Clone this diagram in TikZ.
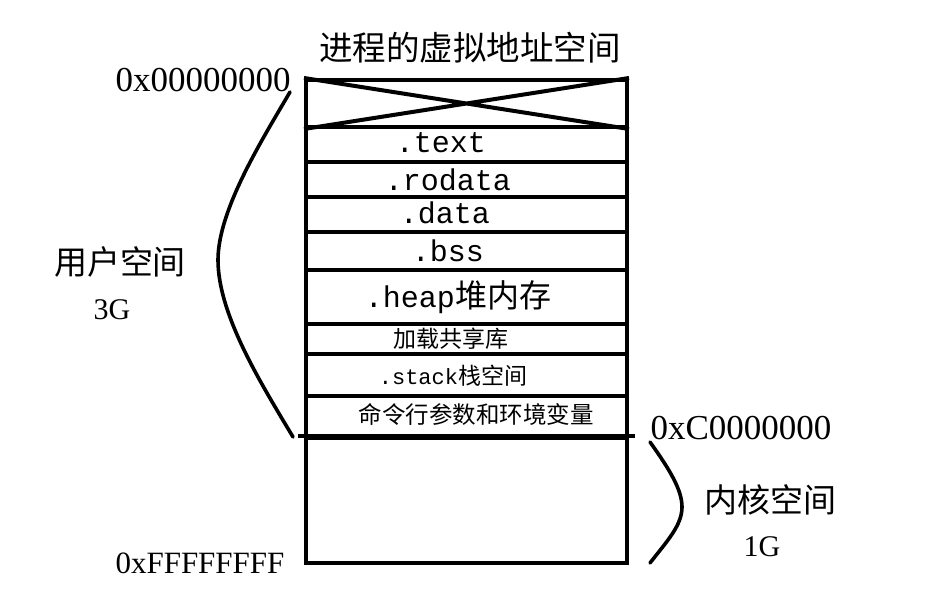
\documentclass[tikz,border=0pt]{standalone}
\usepackage{fontspec}
\setmainfont{Liberation Serif}
\setmonofont{Liberation Mono}
\newfontfamily\cjk{Noto Sans CJK SC}
\usetikzlibrary{calc,positioning}

\begin{document}
\begin{tikzpicture}[x=1pt,y=-1pt,
 band/.style={draw,line width=4pt,minimum width=321pt,inner sep=0pt},
 seg/.style={font=\fontsize{30}{34}\selectfont\ttfamily},
 smallseg/.style={font=\fontsize{22}{26}\selectfont\ttfamily},
 addr/.style={font=\fontsize{35}{38}\selectfont},
 size/.style={font=\fontsize{30}{34}\selectfont},
 big/.style={font=\fontsize{33}{36}\selectfont\cjk},
 brace/.style={line width=3.6pt,line cap=round}]
\useasboundingbox (0,0) rectangle (930,612);
% stacked regions of the address space
\foreach \name/\t/\b in {null/80/127,text/127/162,rodata/162/197,data/197/232,bss/232/270,
 heap/270/324,lib/324/354,stack/354/396,env/396/438,kern/438/563}{
 \pgfmathsetmacro\h{\b-\t}
 \node[band,minimum height=\h pt] (\name) at (466.5,{(\t+\b)/2}) {};
}
\draw[line width=4pt] (null.north west)--(null.south east) (null.south west)--(null.north east);
\draw[line width=4pt] ($(kern.north west)+(-6,0)$)--($(kern.north east)+(6,0)$);
% region labels
\node[big,font=\fontsize{33.5}{36}\selectfont\cjk] (title) at (470,48) {进程的虚拟地址空间};
\node[seg] (textlbl) at (441,143) {.text};
\node[seg] (rodatalbl) at (448,180) {.rodata};
\node[seg] (datalbl) at (445,213) {.data};
\node[seg] (bsslbl) at (448,251) {.bss};
\node[seg] (heaplbl) at (458,297) {.heap{\cjk\fontsize{32}{36}\selectfont 堆内存}};
\node[smallseg] (liblbl) at (451,339) {\cjk\fontsize{23}{26}\selectfont 加载共享库};
\node[smallseg] (stacklbl) at (453,376) {.stack{\cjk\fontsize{23}{26}\selectfont 栈空间}};
\node[smallseg] (envlbl) at (476,414) {\cjk\fontsize{23.5}{26}\selectfont 命令行参数和环境变量};
% addresses
\node[addr] (lowaddr) at (203,80) {0x00000000};
\node[addr] (kernaddr) at (741,428) {0xC0000000};
\node[addr,font=\fontsize{31}{34}\selectfont] (highaddr) at (200,563) {0xFFFFFFFF};
% user / kernel ranges
\node[big] (user) at (120,262) {用户空间};
\node[size] (usersize) at (112,310) {3G};
\node[big] (kernel) at (770,500) {内核空间};
\node[size] (kernsize) at (762,547) {1G};
\coordinate (ustart) at (290,92);
\coordinate (umid) at (218,260);
\coordinate (uend) at (293,437);
\coordinate (kstart) at (650,442);
\coordinate (kmid) at (682,507);
\coordinate (kend) at (650,563);
\draw[brace] (ustart) .. controls (262,140) and (218,210) .. (umid)
 .. controls (218,315) and (262,385) .. (uend);
\draw[brace] (kstart) .. controls (670,470) and (682,490) .. (kmid)
 .. controls (682,525) and (668,540) .. (kend);
\end{tikzpicture}
\end{document}
